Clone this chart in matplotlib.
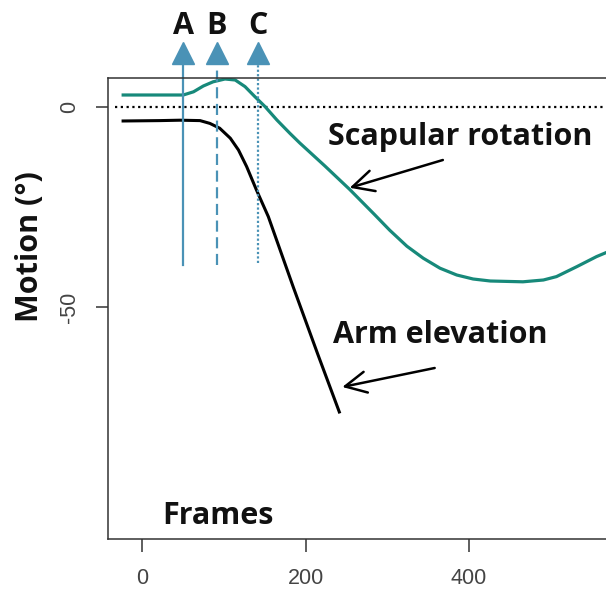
import matplotlib
matplotlib.use("Agg")
import matplotlib.pyplot as plt

# scapular rotation (green) and arm elevation (black)
scap_frames = [-25, 34, 50.5, 63, 75, 87, 101.5, 114, 126, 138, 150.5, 165, 181, 193, 224, 254, 284,
               303, 324, 344, 364.5, 385, 405, 426, 466, 491, 507, 532, 556, 570]
scap_motion = [3.0, 3.0, 3.0, 3.8, 5.25, 6.3, 7.0, 6.75, 5.1, 2.6, 0.1, -3.25, -6.6, -9.0, -14.8, -20.6,
               -26.8, -30.8, -34.8, -37.8, -40.3, -42.0, -43.0, -43.5, -43.7, -43.25, -42.4, -39.9,
               -37.4, -36.2]
arm_frames = [-25, 22, 46.5, 71, 83, 95, 108, 118, 128, 140, 154.5, 185, 215, 242]
arm_motion = [-3.5, -3.4, -3.3, -3.4, -4.1, -5.3, -7.8, -10.75, -14.9, -20.75, -27.4, -45.0, -61.8, -76.6]

# event markers A, B, C
event_labels = ["A", "B", "C"]
event_frames = [50.5, 91.5, 141.5]
event_bottom = [-39.5, -39.5, -39.0]
event_styles = ["-", (0, (5, 2.5)), (0, (1, 1))]

x_ticks = [0, 200, 400]
y_ticks = [0, -50]

GREEN = "#17897a"
BLUE = "#4a92b6"
BOLD = dict(family="Open Sans", fontweight="bold", color="#111111")

fig = plt.figure(figsize=(6.06, 5.93), dpi=100)
ax = fig.add_axes([108 / 606, 54 / 593, 512 / 606, 461 / 593])
ax.set_xlim(-41.6, 584.7)
ax.set_ylim(-108, 7.25)

ax.axhline(0, xmin=0.013, color="black", lw=1.6, ls=(0, (1, 1.6)))
ax.plot(scap_frames, scap_motion, color=GREEN, lw=2.3, solid_capstyle="butt", solid_joinstyle="round")
ax.plot(arm_frames, arm_motion, color="black", lw=2.2, solid_capstyle="butt", solid_joinstyle="round")

for lab, fx, fb, st in zip(event_labels, event_frames, event_bottom, event_styles):
    ax.plot([fx, fx], [fb, 12], color=BLUE, lw=1.6, ls=st, clip_on=False)
    ax.plot([fx], [13.5], marker="^", ms=16, color=BLUE, mec=BLUE, clip_on=False)
    ax.text(fx, 18.2, lab, ha="center", va="baseline", fontsize=22, clip_on=False, **BOLD)

ax.text(227.5, -9.5, "Scapular rotation", ha="left", va="baseline", fontsize=22, **BOLD)
ax.text(233.6, -59, "Arm elevation", ha="left", va="baseline", fontsize=22, **BOLD)
ax.text(24.5, -104.25, "Frames", ha="left", va="baseline", fontsize=22, **BOLD)

ax.annotate("", xy=(254, -20.2), xytext=(368, -13.25),
            arrowprops=dict(arrowstyle="->", lw=1.8, color="black", mutation_scale=38,
                            shrinkA=0, shrinkB=0))
ax.annotate("", xy=(245, -70), xytext=(358, -65.25),
            arrowprops=dict(arrowstyle="->", lw=1.8, color="black", mutation_scale=38,
                            shrinkA=0, shrinkB=0))

fig.text(30 / 606, 1 - 247 / 593, "Motion (°)", rotation=90, ha="center", va="center",
         fontsize=22, **BOLD)

ax.set_xticks(x_ticks)
ax.set_xticklabels([str(t) for t in x_ticks], family="Liberation Sans", fontsize=15.5, color="#444444")
ax.set_yticks(y_ticks)
ax.set_yticklabels([str(t) for t in y_ticks], family="Liberation Sans", fontsize=15.5, color="#444444",
                   rotation=90, va="center")
ax.tick_params(axis="both", length=9, width=1.1, color="#333333")
ax.tick_params(axis="x", pad=12)
ax.tick_params(axis="y", pad=11)
for side in ["left", "bottom", "top"]:
    ax.spines[side].set_color("#333333")
    ax.spines[side].set_linewidth(1.1)
ax.spines["right"].set_visible(False)

# little broken patch on the left axis line
ax.plot([-41.6, -41.6], [-73.5, -83], color="white", lw=1.2, ls=(0, (1, 1)), clip_on=False)

fig.savefig("out.png", dpi=100)
